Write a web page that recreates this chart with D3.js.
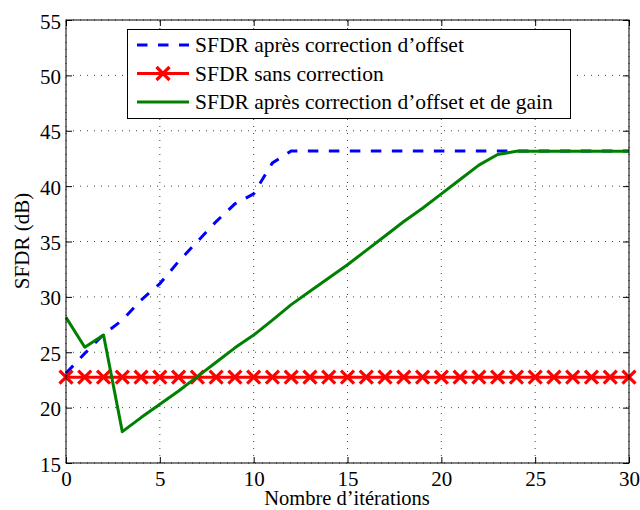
<!DOCTYPE html>
<html><head><meta charset="utf-8">
<script src="https://cdn.jsdelivr.net/npm/d3@7"></script>
<style>body{margin:0;background:#fff}svg{display:block}text{font-family:"Liberation Serif","Times New Roman",serif;font-size:21px;fill:#000}</style>
</head><body>
<script>
const iterations = d3.range(0, 31);
const blueOffset = [23.1,24.9,26.6,27.9,29.7,31.2,33.2,35.0,36.8,38.4,39.3,42.1,43.17,43.17,43.17,43.17,43.17,43.17,43.17,43.17,43.17,43.17,43.17,43.17,43.17,43.17,43.17,43.17,43.17,43.17,43.17];
const redNone = [22.75,22.75,22.75,22.75,22.75,22.75,22.75,22.75,22.75,22.75,22.75,22.75,22.75,22.75,22.75,22.75,22.75,22.75,22.75,22.75,22.75,22.75,22.75,22.75,22.75,22.75,22.75,22.75,22.75,22.75,22.75];
const greenOffsetGain = [28.15,25.45,26.55,17.83,19.1,20.3,21.5,22.8,24.1,25.4,26.55,27.9,29.3,30.5,31.7,32.9,34.2,35.5,36.8,38.0,39.3,40.6,41.9,42.85,43.15,43.15,43.15,43.15,43.15,43.15,43.15];
const xTicks = [0,5,10,15,20,25,30];
const yTicks = [15,20,25,30,35,40,45,50,55];
const legendLabels = ["SFDR après correction d’offset","SFDR sans correction","SFDR après correction d’offset et de gain"];
const xLabel = "Nombre d’itérations";
const yLabel = "SFDR (dB)";

(function(){
const W=640,H=510;
const svg=d3.select("body").append("svg").attr("width",W).attr("height",H);
const x=d3.scaleLinear().domain([0,30]).range([66,629]);
const y=d3.scaleLinear().domain([15,55]).range([463,20]);

// grid
const g=svg.append("g");
g.selectAll(".gx").data(xTicks).enter().append("line")
 .attr("x1",d=>x(d)).attr("x2",d=>x(d)).attr("y1",y(15)).attr("y2",y(55))
 .attr("stroke","#444").attr("stroke-width",1).attr("stroke-dasharray","1,6");
g.selectAll(".gy").data(yTicks).enter().append("line")
 .attr("y1",d=>y(d)).attr("y2",d=>y(d)).attr("x1",x(0)).attr("x2",x(30))
 .attr("stroke","#444").attr("stroke-width",1).attr("stroke-dasharray","1,6");

// axes with inner ticks
const ax=svg.append("g");
const axB=ax.append("g").attr("transform",`translate(0,${y(15)})`).call(d3.axisBottom(x).tickValues(xTicks).tickSizeInner(-6).tickSizeOuter(0));
ax.append("g").attr("transform",`translate(0,${y(55)})`).call(d3.axisTop(x).tickValues(xTicks).tickSizeInner(-6).tickSizeOuter(0).tickFormat(""));
const axL=ax.append("g").attr("transform",`translate(${x(0)},0)`).call(d3.axisLeft(y).tickValues(yTicks).tickSizeInner(-6).tickSizeOuter(0).tickPadding(5));
ax.append("g").attr("transform",`translate(${x(30)},0)`).call(d3.axisRight(y).tickValues(yTicks).tickSizeInner(-6).tickSizeOuter(0).tickFormat(""));
ax.selectAll(".domain").remove();
ax.selectAll(".tick line").attr("stroke","#000").attr("stroke-width",1);
ax.attr("font-family",null).attr("font-size",null);
ax.selectAll("g").attr("font-family",null).attr("font-size",null);
axB.selectAll("text").attr("dy",null).attr("y",23);
axL.selectAll("text").attr("dy",null).attr("x",-5).attr("y",8);

// data lines
const line=d3.line().x((d,i)=>x(iterations[i])).y(d=>y(d));
svg.append("path").datum(blueOffset).attr("d",line).attr("fill","none").attr("stroke","#0000ff").attr("stroke-width",3).attr("stroke-dasharray","10.5,10.5");
svg.append("path").datum(redNone).attr("d",line).attr("fill","none").attr("stroke","#ff0000").attr("stroke-width",3);
const m=6.5;
const xMark=(cx,cy)=>`M${cx-m},${cy-m}L${cx+m},${cy+m}M${cx-m},${cy+m}L${cx+m},${cy-m}`;
svg.append("g").selectAll("path").data(redNone).enter().append("path")
 .attr("d",(d,i)=>xMark(x(iterations[i]),y(d))).attr("stroke","#ff0000").attr("stroke-width",3.2).attr("fill","none");
svg.append("path").datum(greenOffsetGain).attr("d",line).attr("fill","none").attr("stroke","#008000").attr("stroke-width",3).attr("stroke-linejoin","round");

// box
svg.append("rect").attr("x",x(0)).attr("y",y(55)).attr("width",x(30)-x(0)).attr("height",y(15)-y(55)).attr("fill","none").attr("stroke","#000").attr("stroke-width",1);

// legend
const lg=svg.append("g");
lg.append("rect").attr("x",127.5).attr("y",29.5).attr("width",443).attr("height",89).attr("fill","#fff").attr("stroke","#000").attr("stroke-width",1);
const rowsY=[45,73.5,102];
const colors=["#0000ff","#ff0000","#008000"];
legendLabels.forEach((t,i)=>{
  const l=lg.append("line").attr("x1",137).attr("x2",189).attr("y1",rowsY[i]).attr("y2",rowsY[i]).attr("stroke",colors[i]).attr("stroke-width",3);
  if(i===0) l.attr("stroke-dasharray","10.5,10.5");
  if(i===1) lg.append("path").attr("d",xMark(163,rowsY[i])).attr("stroke","#ff0000").attr("stroke-width",3.2);
  lg.append("text").attr("x",195).attr("y",rowsY[i]+7).style("font-size","21.5px").text(t);
});

// axis labels
svg.append("text").attr("x",347).attr("y",505).attr("text-anchor","middle").style("font-size","20.5px").text(xLabel);
svg.append("text").attr("transform","translate(29,241) rotate(-90)").attr("text-anchor","middle").text(yLabel);
})();
</script>
</body></html>
